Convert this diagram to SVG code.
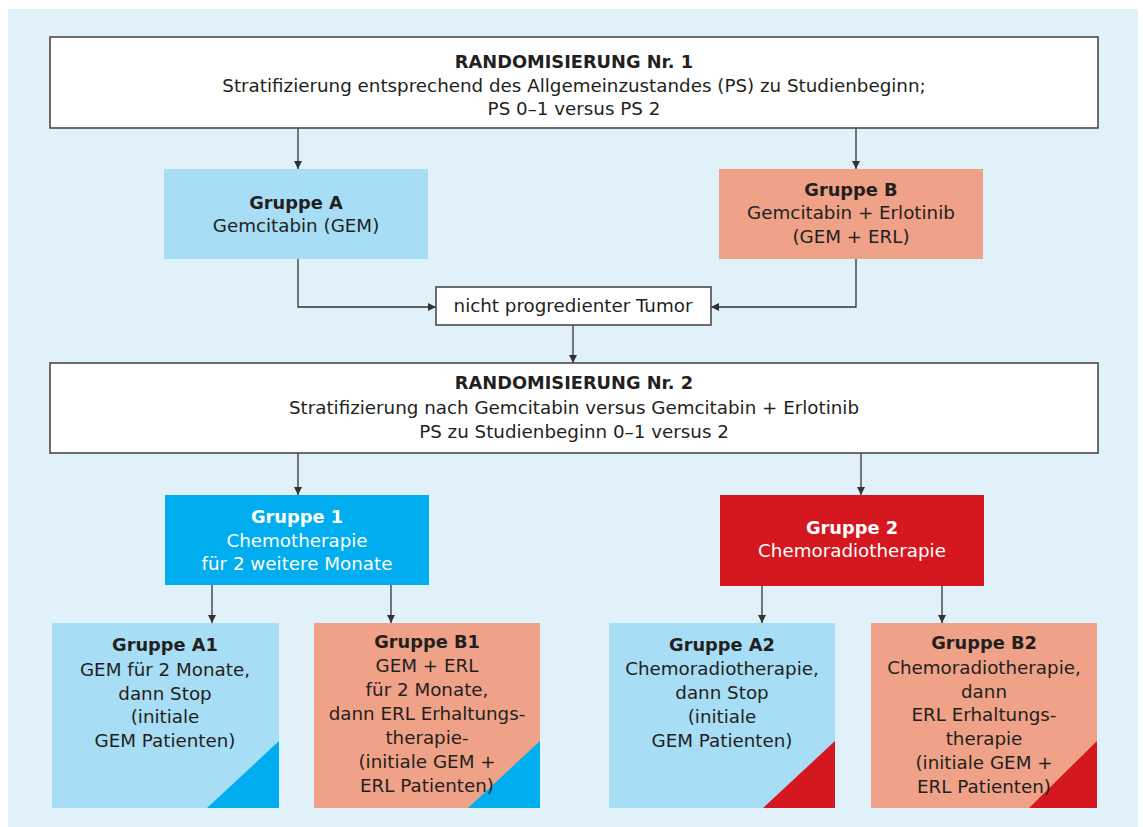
<svg xmlns="http://www.w3.org/2000/svg" width="1143" height="827" viewBox="0 0 1143 827">
<style>
text{font-family:"DejaVu Sans","Liberation Sans",Arial,sans-serif;font-size:18.3px;fill:#231f20;text-anchor:middle}
.b{font-weight:bold;font-size:17.8px}
.w{fill:#ffffff}
.frame{fill:#ffffff;stroke:#4a4a4a;stroke-width:1.6}
.lb{fill:#a8ddf6}
.sa{fill:#efa287}
.cy{fill:#00adee}
.rd{fill:#d5171f}
.con{fill:none;stroke:#333333;stroke-width:1.3}
</style>
<defs>
<marker id="ah" viewBox="0 0 8 10" refX="8" refY="5" markerWidth="8" markerHeight="10" markerUnits="userSpaceOnUse" orient="auto">
<path d="M0,1 L8,5 L0,9 Z" fill="#333333"/>
</marker>
</defs>
<rect x="0" y="0" width="1143" height="827" fill="#ffffff"/>
<rect x="8" y="9" width="1130" height="818" fill="#e0f1fa"/>

<g id="connectors">
<path class="con" d="M298,128 V169" marker-end="url(#ah)"/>
<path class="con" d="M856,128 V169" marker-end="url(#ah)"/>
<path class="con" d="M298,259 V307 H436" marker-end="url(#ah)"/>
<path class="con" d="M856,259 V307 H711" marker-end="url(#ah)"/>
<path class="con" d="M573,325 V363" marker-end="url(#ah)"/>
<path class="con" d="M298,453 V495" marker-end="url(#ah)"/>
<path class="con" d="M861,453 V495" marker-end="url(#ah)"/>
<path class="con" d="M212,585 V623" marker-end="url(#ah)"/>
<path class="con" d="M391,585 V623" marker-end="url(#ah)"/>
<path class="con" d="M762,586 V623" marker-end="url(#ah)"/>
<path class="con" d="M942,586 V623" marker-end="url(#ah)"/>
</g>

<g id="rand1">
<rect class="frame" x="50" y="37" width="1048" height="91"/>
<text class="b" x="574" y="68">RANDOMISIERUNG Nr. 1</text>
<text x="574" y="92">Stratifizierung entsprechend des Allgemeinzustandes (PS) zu Studienbeginn;</text>
<text x="574" y="115">PS 0–1 versus PS 2</text>
</g>

<g id="gruppeA">
<rect class="lb" x="164" y="169" width="264" height="90"/>
<text class="b" x="296" y="209">Gruppe A</text>
<text x="296" y="232">Gemcitabin (GEM)</text>
</g>

<g id="gruppeB">
<rect class="sa" x="719" y="169" width="264" height="90"/>
<text class="b" x="851" y="196">Gruppe B</text>
<text x="851" y="219">Gemcitabin + Erlotinib</text>
<text x="851" y="243">(GEM + ERL)</text>
</g>

<g id="tumor">
<rect class="frame" x="436" y="287" width="275" height="38"/>
<text x="573" y="312">nicht progredienter Tumor</text>
</g>

<g id="rand2">
<rect class="frame" x="50" y="363" width="1048" height="90"/>
<text class="b" x="574" y="389">RANDOMISIERUNG Nr. 2</text>
<text x="574" y="414">Stratifizierung nach Gemcitabin versus Gemcitabin + Erlotinib</text>
<text x="574" y="438">PS zu Studienbeginn 0–1 versus 2</text>
</g>

<g id="gruppe1">
<rect class="cy" x="165" y="495" width="264" height="90"/>
<text class="b w" x="297" y="523">Gruppe 1</text>
<text class="w" x="297" y="547">Chemotherapie</text>
<text class="w" x="297" y="570">für 2 weitere Monate</text>
</g>

<g id="gruppe2">
<rect class="rd" x="720" y="495" width="264" height="91"/>
<text class="b w" x="852" y="534">Gruppe 2</text>
<text class="w" x="852" y="557">Chemoradiotherapie</text>
</g>

<g id="gruppeA1">
<rect class="lb" x="52" y="623" width="227" height="185"/>
<polygon class="cy" points="207,808 279,808 279,741"/>
<text class="b" x="165" y="651">Gruppe A1</text>
<text x="165" y="676">GEM für 2 Monate,</text>
<text x="165" y="700">dann Stop</text>
<text x="165" y="723">(initiale</text>
<text x="165" y="747">GEM Patienten)</text>
</g>

<g id="gruppeB1">
<rect class="sa" x="314" y="623" width="226" height="185"/>
<polygon class="cy" points="468,808 540,808 540,741"/>
<text class="b" x="427" y="648">Gruppe B1</text>
<text x="427" y="672">GEM + ERL</text>
<text x="427" y="696">für 2 Monate,</text>
<text x="427" y="720">dann ERL Erhaltungs-</text>
<text x="427" y="744">therapie-</text>
<text x="427" y="768">(initiale GEM +</text>
<text x="427" y="792">ERL Patienten)</text>
</g>

<g id="gruppeA2">
<rect class="lb" x="609" y="623" width="226" height="185"/>
<polygon class="rd" points="763,808 835,808 835,741"/>
<text class="b" x="722" y="651">Gruppe A2</text>
<text x="722" y="675">Chemoradiotherapie,</text>
<text x="722" y="699">dann Stop</text>
<text x="722" y="723">(initiale</text>
<text x="722" y="747">GEM Patienten)</text>
</g>

<g id="gruppeB2">
<rect class="sa" x="871" y="623" width="226" height="185"/>
<polygon class="rd" points="1029,808 1097,808 1097,741"/>
<text class="b" x="984" y="649">Gruppe B2</text>
<text x="984" y="674">Chemoradiotherapie,</text>
<text x="984" y="698">dann</text>
<text x="984" y="721">ERL Erhaltungs-</text>
<text x="984" y="745">therapie</text>
<text x="984" y="769">(initiale GEM +</text>
<text x="984" y="793">ERL Patienten)</text>
</g>
</svg>
